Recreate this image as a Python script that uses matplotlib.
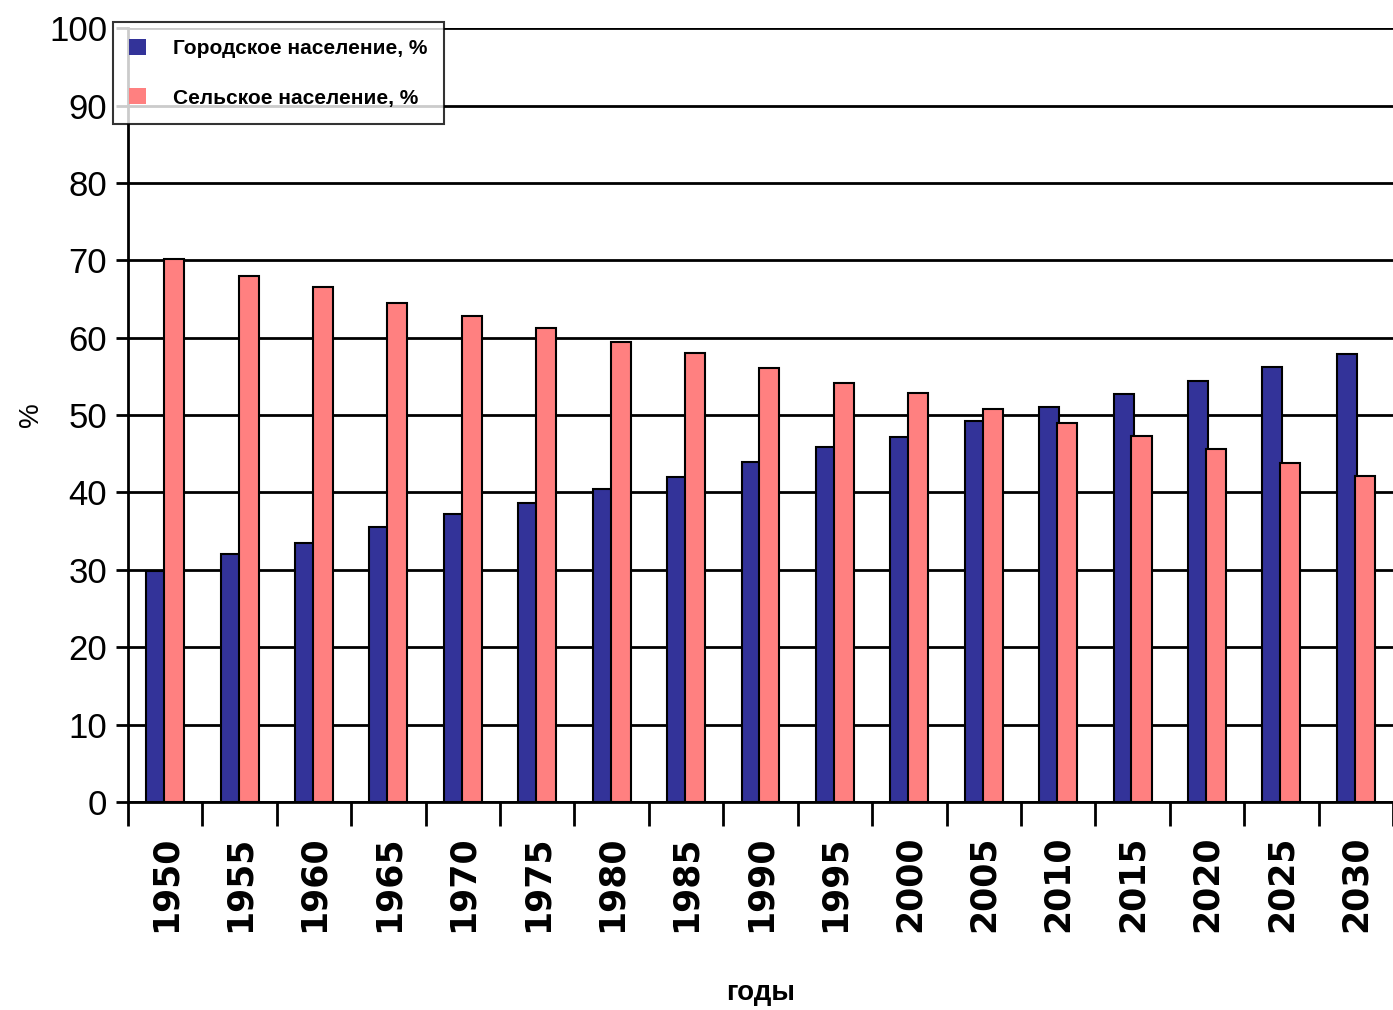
import numpy as np
import matplotlib
matplotlib.use("Agg")
import matplotlib.pyplot as plt

# ── Данные ───────────────────────────────────────────────
years = ["1950", "1955", "1960", "1965", "1970", "1975", "1980", "1985", "1990",
         "1995", "2000", "2005", "2010", "2015", "2020", "2025", "2030"]
urban = [29.8, 32.0, 33.5, 35.5, 37.2, 38.7, 40.5, 42.0, 43.9,
         45.9, 47.2, 49.2, 51.0, 52.7, 54.4, 56.2, 57.9]
rural = [70.2, 68.0, 66.5, 64.5, 62.8, 61.3, 59.5, 58.0, 56.1,
         54.1, 52.8, 50.8, 49.0, 47.3, 45.6, 43.8, 42.1]

narrow = ["Liberation Sans Narrow", "Liberation Sans", "DejaVu Sans"]

fig = plt.figure(figsize=(13.93, 10.10), dpi=100)
ax = fig.add_axes([0.0919, 0.206, 0.9081, 0.766])

x = np.arange(len(years))
w = 0.27
ax.bar(x - 0.12, urban, w, color="#333399", edgecolor="black", linewidth=1.5,
       label="Городское население, %", zorder=2)
ax.bar(x + 0.12, rural, w, color="#FF8080", edgecolor="black", linewidth=1.5,
       label="Сельское население, %", zorder=3)

ax.set_xlim(-0.5, len(years) - 0.5)
ax.set_ylim(0, 100)
ax.set_yticks(np.arange(0, 101, 10))
ax.yaxis.grid(True, color="black", linewidth=2)
ax.set_axisbelow(True)

for sp in ["top", "right"]:
    ax.spines[sp].set_visible(False)
ax.spines["left"].set_linewidth(2)
ax.spines["bottom"].set_linewidth(2)

ax.set_xticks(x)
ax.set_xticklabels(years, rotation=90, fontsize=25, fontweight="bold",
                   family="DejaVu Sans")
ax.set_xticks(np.arange(-0.5, len(years), 1), minor=True)
ax.tick_params(axis="x", which="major", length=0, pad=24)
ax.tick_params(axis="x", which="minor", length=17, width=2, direction="out")
ax.tick_params(axis="y", length=9, width=2, direction="out", pad=6)
for lab in ax.get_yticklabels():
    lab.set_family(narrow)
    lab.set_fontsize(25)

fig.text(0.022, 0.589, "%", rotation=90, fontsize=20, family=narrow,
         ha="center", va="center")
fig.text(0.546, 0.017, "годы", fontsize=20, fontweight="bold", family=narrow,
         ha="center", va="center")

leg = fig.legend(loc="upper left", bbox_to_anchor=(0.081, 0.978),
                 borderaxespad=0,
                 prop={"family": narrow, "size": 15, "weight": "bold"},
                 frameon=True, fancybox=False, edgecolor="black",
                 handlelength=0.8, handleheight=0.8, borderpad=0.8,
                 labelspacing=1.45, handletextpad=1.3)
leg.get_frame().set_linewidth(1.5)
for h in leg.legend_handles:
    h.set_edgecolor("none")

plt.savefig("out.png", dpi=100)
plt.close()
